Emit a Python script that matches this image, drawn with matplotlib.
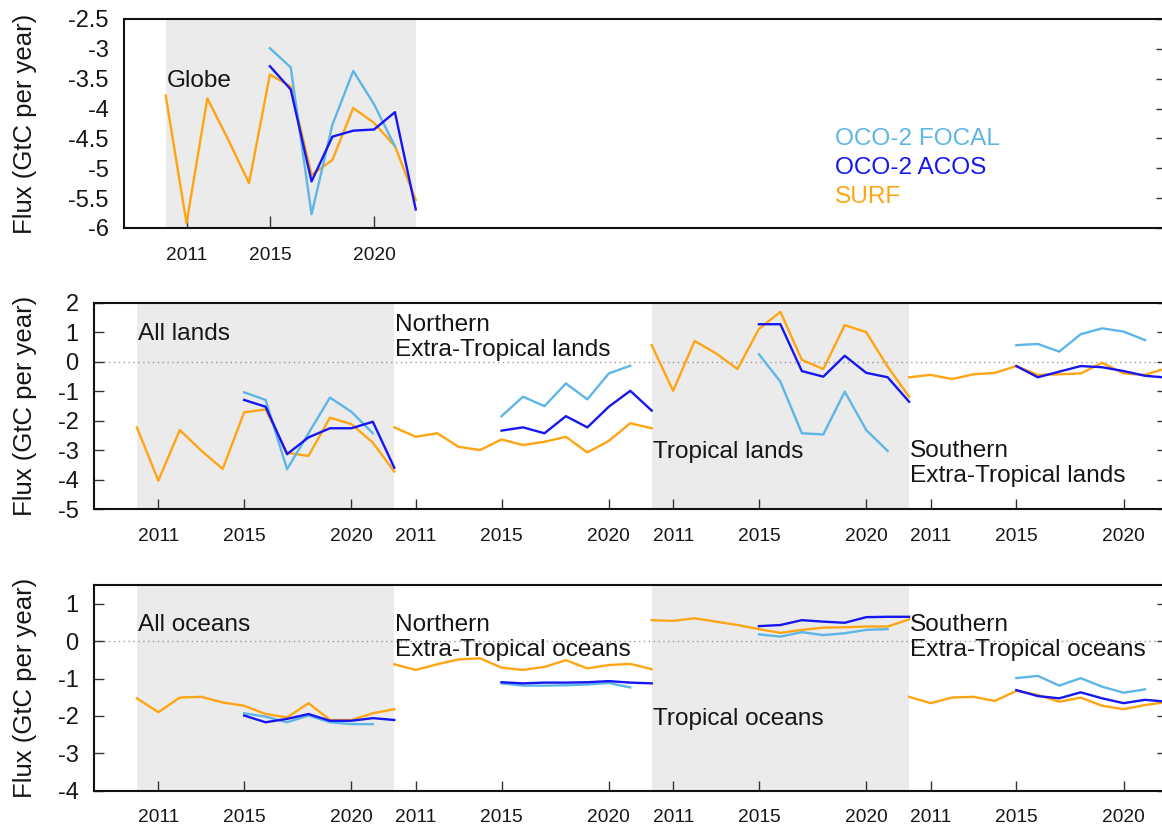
import matplotlib
matplotlib.use("Agg")
import matplotlib.pyplot as plt
import numpy as np

plt.rcParams['font.family'] = ['Liberation Sans', 'DejaVu Sans']

# ---------------------------------------------------------------- data
surf_years = np.arange(2010, 2023)
acos_years = np.arange(2015, 2023)
focal_years = np.arange(2015, 2022)

tick_years = [2011, 2015, 2020]
tick_labels = ["2011", "2015", "2020"]

# Globe
globe_surf = [-3.78, -5.92, -3.83, -4.52, -5.25, -3.43, -3.63, -5.11, -4.86, -3.99, -4.24, -4.63, -5.53]
globe_acos = [-3.29, -3.68, -5.22, -4.47, -4.37, -4.35, -4.06, -5.69]
globe_focal = [-2.99, -3.31, -5.77, -4.27, -3.37, -3.93, -4.63]

# Lands
land_names = ["All lands", "Northern\nExtra-Tropical lands", "Tropical lands", "Southern\nExtra-Tropical lands"]
all_lands_surf = [-2.23, -4.04, -2.32, -3.02, -3.64, -1.72, -1.62, -3.09, -3.20, -1.90, -2.12, -2.75, -3.73]
all_lands_acos = [-1.30, -1.53, -3.14, -2.57, -2.26, -2.26, -2.04, -3.60]
all_lands_focal = [-1.04, -1.30, -3.65, -2.43, -1.22, -1.70, -2.43]
net_lands_surf = [-2.23, -2.55, -2.43, -2.89, -3.00, -2.64, -2.83, -2.72, -2.55, -3.08, -2.69, -2.09, -2.26]
net_lands_acos = [-2.34, -2.23, -2.43, -1.85, -2.23, -1.53, -0.99, -1.66]
net_lands_focal = [-1.85, -1.19, -1.51, -0.74, -1.28, -0.40, -0.14]
trop_lands_surf = [0.56, -0.99, 0.70, 0.28, -0.25, 1.11, 1.69, 0.06, -0.25, 1.24, 1.00, -0.17, -1.19]
trop_lands_acos = [1.27, 1.27, -0.32, -0.51, 0.20, -0.38, -0.53, -1.36]
trop_lands_focal = [0.25, -0.68, -2.43, -2.47, -1.02, -2.32, -3.03]
set_lands_surf = [-0.53, -0.45, -0.59, -0.43, -0.38, -0.15, -0.45, -0.43, -0.40, -0.04, -0.40, -0.45, -0.22]
set_lands_acos = [-0.15, -0.53, -0.34, -0.15, -0.19, -0.32, -0.48, -0.54]
set_lands_focal = [0.56, 0.60, 0.34, 0.93, 1.13, 1.02, 0.73]

# Oceans
ocean_names = ["All oceans", "Northern\nExtra-Tropical oceans", "Tropical oceans", "Southern\nExtra-Tropical oceans"]
all_oceans_surf = [-1.53, -1.90, -1.51, -1.49, -1.64, -1.73, -1.95, -2.04, -1.66, -2.11, -2.11, -1.93, -1.82]
all_oceans_acos = [-1.99, -2.17, -2.08, -1.95, -2.13, -2.13, -2.06, -2.11]
all_oceans_focal = [-1.93, -2.02, -2.17, -1.99, -2.17, -2.22, -2.22]
net_oceans_surf = [-0.62, -0.77, -0.62, -0.49, -0.46, -0.71, -0.77, -0.69, -0.51, -0.73, -0.64, -0.61, -0.75]
net_oceans_acos = [-1.10, -1.13, -1.11, -1.11, -1.10, -1.07, -1.11, -1.13]
net_oceans_focal = [-1.13, -1.19, -1.19, -1.18, -1.16, -1.12, -1.24]
trop_oceans_surf = [0.56, 0.54, 0.61, 0.52, 0.43, 0.32, 0.22, 0.30, 0.36, 0.37, 0.39, 0.39, 0.58]
trop_oceans_acos = [0.40, 0.43, 0.56, 0.52, 0.49, 0.64, 0.65, 0.65]
trop_oceans_focal = [0.18, 0.12, 0.24, 0.16, 0.21, 0.30, 0.32]
set_oceans_surf = [-1.49, -1.66, -1.51, -1.49, -1.60, -1.33, -1.44, -1.62, -1.51, -1.73, -1.82, -1.71, -1.63]
set_oceans_acos = [-1.31, -1.47, -1.53, -1.37, -1.53, -1.66, -1.57, -1.62]
set_oceans_focal = [-0.99, -0.93, -1.19, -0.99, -1.22, -1.38, -1.29]

series_names = ["OCO-2 FOCAL", "OCO-2 ACOS", "SURF"]

# ---------------------------------------------------------------- style
C_FOCAL = "#5DB6E6"
C_ACOS = "#1616F2"
C_SURF = "#FFA514"
SHADE = "#EBEBEB"
TXT = "#161616"
LW = 1.7
LABEL_FS = 17.6
SPAN = 12          # years per regional panel along the shared axis
X0, X1 = 2008, 2058

W, H = 1162, 825
fig = plt.figure(figsize=(W / 100, H / 100), dpi=100)


def px_axes(left, top, right, bottom):
    return fig.add_axes([left / W, 1 - bottom / H, (right - left) / W, (bottom - top) / H])


def style_axes(ax, ylim, yticks, ylabel_x, left_ticks=True, right_ticks=True, xtick_len=7.5):
    ax.set_xlim(X0, X1)
    ax.set_ylim(*ylim)
    ax.set_yticks(yticks)
    ax.set_yticklabels([f"{t:g}" for t in yticks])
    for s in ax.spines.values():
        s.set_linewidth(1.5)
        s.set_color("#111111")
    ax.tick_params(axis="y", direction="in", length=7.5, width=1.0, color="#333333",
                   left=left_ticks, right=right_ticks, labelsize=17, pad=11, labelcolor=TXT)
    ax.tick_params(axis="x", direction="in", length=xtick_len, width=1.0, color="#333333",
                   labelsize=13.8, pad=13.5, labelcolor=TXT)
    ax.set_ylabel("Flux (GtC per year)", fontsize=18.5, color=TXT)
    ax.yaxis.set_label_coords(ylabel_x, 0.5)


def draw_panel(ax, k, surf, acos, focal):
    off = SPAN * k
    ax.plot(surf_years + off, surf, color=C_SURF, lw=LW, zorder=3)
    ax.plot(focal_years + off, focal, color=C_FOCAL, lw=LW, zorder=4)
    ax.plot(acos_years + off, acos, color=C_ACOS, lw=LW, zorder=5)


# ---------------------------------------------------------------- globe
ax1 = px_axes(124, 19, 1166, 228)
ax1.axvspan(2010, 2022, color=SHADE, lw=0, zorder=0)
draw_panel(ax1, 0, globe_surf, globe_acos, globe_focal)
style_axes(ax1, (-6, -2.5), [-6, -5.5, -5, -4.5, -4, -3.5, -3, -2.5],
           ylabel_x=(37 - 124) / 1042, left_ticks=False, right_ticks=True, xtick_len=9)
ax1.set_xticks(tick_years)
ax1.set_xticklabels(tick_labels)
ax1.text(2010.05, -3.64, "Globe", fontsize=LABEL_FS, color=TXT, va="baseline", ha="left", zorder=6)

legend_colors = [C_FOCAL, C_ACOS, C_SURF]
for i, (name, col) in enumerate(zip(series_names, legend_colors)):
    ax1.text(2042.1, -4.61 - 0.485 * i, name, fontsize=LABEL_FS, color=col,
             va="baseline", ha="left")


# ---------------------------------------------------------------- regional rows
def regional_row(top, bottom, ylim, yticks, names, data, label_y):
    ax = px_axes(94, top, 1166.5, bottom)
    for k in (0, 2):
        ax.axvspan(2010 + SPAN * k, 2022 + SPAN * k, color=SHADE, lw=0, zorder=0)
    ax.axhline(0, color="#9a9a9a", lw=1.0, ls=(0, (1, 2.5)), zorder=1)
    for k, (surf, acos, focal) in enumerate(data):
        draw_panel(ax, k, surf, acos, focal)
    style_axes(ax, ylim, yticks, ylabel_x=(37 - 94) / 1072.5)
    xt, xl = [], []
    for k in range(4):
        xt += [y + SPAN * k for y in tick_years]
        xl += tick_labels
    ax.set_xticks(xt)
    ax.set_xticklabels(xl)
    # label_y gives the baseline of each label's bottom line
    for k, (name, ly) in enumerate(zip(names, label_y)):
        ax.text(2010.05 + SPAN * k, ly, name, fontsize=LABEL_FS, color=TXT, va="baseline",
                ha="left", linespacing=1.2, zorder=6)
    return ax


regional_row(302.7, 509, (-5, 2), [2, 1, 0, -1, -2, -3, -4, -5], land_names,
             [(all_lands_surf, all_lands_acos, all_lands_focal),
              (net_lands_surf, net_lands_acos, net_lands_focal),
              (trop_lands_surf, trop_lands_acos, trop_lands_focal),
              (set_lands_surf, set_lands_acos, set_lands_focal)],
             [0.73, 0.19, -3.27, -4.10])

regional_row(585, 790.7, (-4, 1.5), [1, 0, -1, -2, -3, -4], ocean_names,
             [(all_oceans_surf, all_oceans_acos, all_oceans_focal),
              (net_oceans_surf, net_oceans_acos, net_oceans_focal),
              (trop_oceans_surf, trop_oceans_acos, trop_oceans_focal),
              (set_oceans_surf, set_oceans_acos, set_oceans_focal)],
             [0.27, -0.40, -2.24, -0.40])

fig.savefig("out.png", dpi=100)
